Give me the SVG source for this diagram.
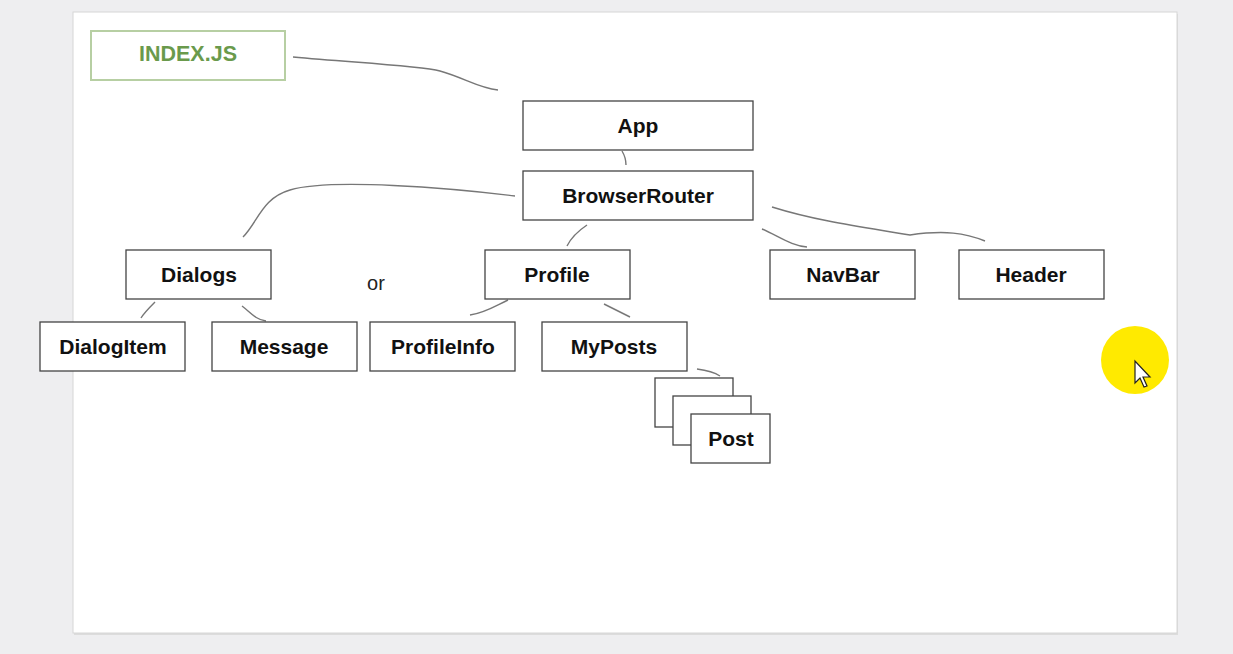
<svg xmlns="http://www.w3.org/2000/svg" width="1233" height="654" viewBox="0 0 1233 654">
<style>
.box{fill:#fff;stroke:#444;stroke-width:1.3}
.lbl{font-family:"Liberation Sans",Arial,sans-serif;font-weight:bold;font-size:21px;fill:#111;text-anchor:middle;dominant-baseline:central}
.con{fill:none;stroke:#777;stroke-width:1.4}
</style>
<rect width="1233" height="654" fill="#eeeef0"/>
<rect x="74" y="14" width="1104" height="621" fill="#dcdcdc"/>
<rect x="73" y="12" width="1104" height="621" fill="#fff" stroke="#d6d6d6" stroke-width="1"/>
<g id="connectors">
<path class="con" d="M293,57 C360,63 420,66 440,71 C465,78 478,88 498,90"/>
<path class="con" d="M622,151 C625,156 626,160 626,165"/>
<path class="con" d="M515,196 C450,188 330,178 290,190 C262,198 258,222 243,237"/>
<path class="con" d="M587,225 C578,231 571,238 567,246"/>
<path class="con" d="M762,229 C780,237 792,246 807,247"/>
<path class="con" d="M772,207 C820,222 870,228 910,235 C945,230 965,233 985,241"/>
<path class="con" d="M155,302 C149,308 144,313 141,318"/>
<path class="con" d="M242,306 C250,312 256,320 266,321"/>
<path class="con" d="M508,300 C495,306 485,313 470,315"/>
<path class="con" d="M604,304 C614,309 622,313 630,317"/>
<path class="con" d="M697,369 C705,370 714,372 720,376"/>
</g>
<g id="index"><rect x="91" y="31" width="194" height="49" fill="#fff" stroke="#b7cfa3" stroke-width="2"/><text class="lbl" x="188" y="54" style="fill:#6a9a4c;font-size:21.5px">INDEX.JS</text></g>
<g id="app"><rect class="box" x="523" y="101" width="230" height="49"/><text class="lbl" x="638" y="125">App</text></g>
<g id="browserrouter"><rect class="box" x="523" y="171" width="230" height="49"/><text class="lbl" x="638" y="195">BrowserRouter</text></g>
<g id="dialogs"><rect class="box" x="126" y="250" width="145" height="49"/><text class="lbl" x="199" y="274">Dialogs</text></g>
<g id="or"><text x="376" y="283" font-family="Liberation Sans,Arial,sans-serif" font-size="20" fill="#222" text-anchor="middle" dominant-baseline="central">or</text></g>
<g id="profile"><rect class="box" x="485" y="250" width="145" height="49"/><text class="lbl" x="557" y="274">Profile</text></g>
<g id="navbar"><rect class="box" x="770" y="250" width="145" height="49"/><text class="lbl" x="843" y="274">NavBar</text></g>
<g id="header"><rect class="box" x="959" y="250" width="145" height="49"/><text class="lbl" x="1031" y="274">Header</text></g>
<g id="dialogitem"><rect class="box" x="40" y="322" width="145" height="49"/><text class="lbl" x="113" y="346">DialogItem</text></g>
<g id="message"><rect class="box" x="212" y="322" width="145" height="49"/><text class="lbl" x="284" y="346">Message</text></g>
<g id="profileinfo"><rect class="box" x="370" y="322" width="145" height="49"/><text class="lbl" x="443" y="346">ProfileInfo</text></g>
<g id="myposts"><rect class="box" x="542" y="322" width="145" height="49"/><text class="lbl" x="614" y="346">MyPosts</text></g>
<g id="post">
<rect class="box" x="655" y="378" width="78" height="49"/>
<rect class="box" x="673" y="396" width="78" height="49"/>
<rect class="box" x="691" y="414" width="79" height="49"/>
<text class="lbl" x="731" y="438">Post</text>
</g>
<g id="cursor">
<circle cx="1135" cy="360" r="34" fill="#ffea00"/>
<path d="M1135,361 L1135,383 L1140,378 L1144,387 L1147,386 L1143,377 L1150,377 Z" fill="#fff" stroke="#222" stroke-width="1.2"/>
</g>
</svg>
